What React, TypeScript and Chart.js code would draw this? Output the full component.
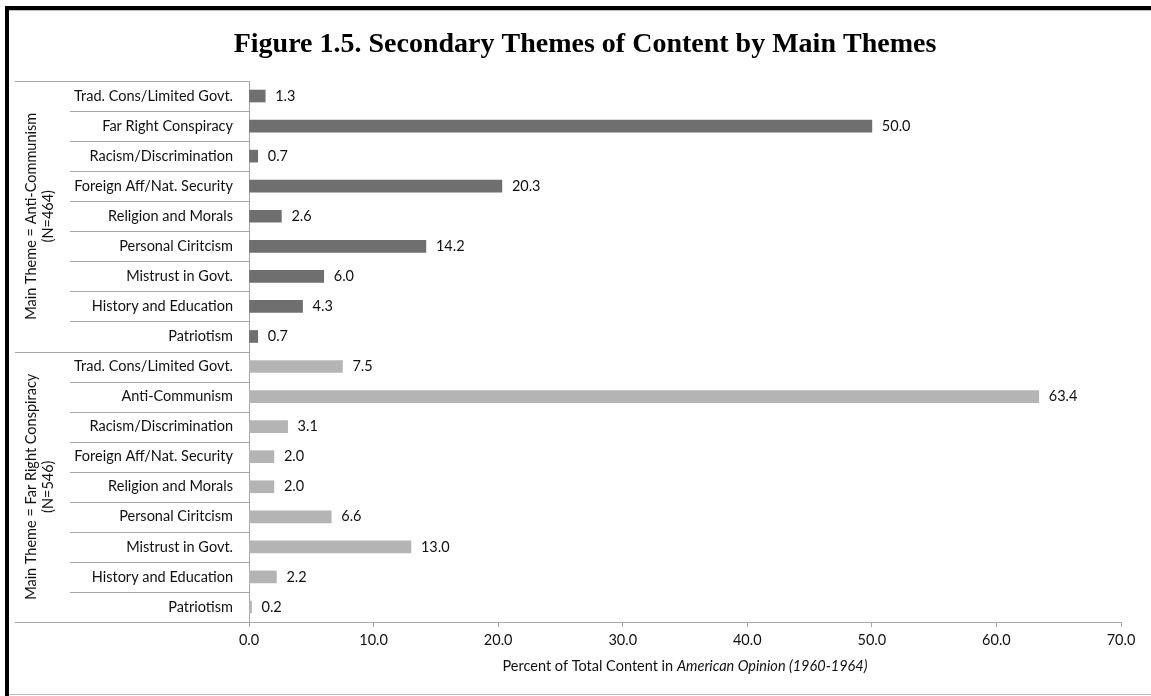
import React, { useEffect, useRef } from "react";
import { Chart, registerables } from "chart.js";

Chart.register(...registerables);

const TITLE = "Figure 1.5. Secondary Themes of Content by Main Themes";

const groupALabels = [
  "Trad. Cons/Limited Govt.",
  "Far Right Conspiracy",
  "Racism/Discrimination",
  "Foreign Aff/Nat. Security",
  "Religion and Morals",
  "Personal Ciritcism",
  "Mistrust in Govt.",
  "History and Education",
  "Patriotism",
];
const groupAValues = [1.3, 50.0, 0.7, 20.3, 2.6, 14.2, 6.0, 4.3, 0.7];

const groupBLabels = [
  "Trad. Cons/Limited Govt.",
  "Anti-Communism",
  "Racism/Discrimination",
  "Foreign Aff/Nat. Security",
  "Religion and Morals",
  "Personal Ciritcism",
  "Mistrust in Govt.",
  "History and Education",
  "Patriotism",
];
const groupBValues = [7.5, 63.4, 3.1, 2.0, 2.0, 6.6, 13.0, 2.2, 0.2];

const groupNames = [
  ["Main Theme = Anti-Communism", "(N=464)"],
  ["Main Theme = Far Right Conspiracy", "(N=546)"],
];

const xTicks = [0, 10, 20, 30, 40, 50, 60, 70];
const xTitlePlain = "Percent of Total Content in ";
const xTitleItalic = "American Opinion (1960-1964)";

const FONT = "Lato, 'Open Sans', sans-serif";
const FS = 14.5;
const TEXT = "#111";
const DARK = "#6f6f6f";
const LIGHT = "#b4b4b4";
const LINE = "#a6a6a6";

export default function App() {
  const ref = useRef<HTMLCanvasElement | null>(null);

  useEffect(() => {
    document.body.style.margin = "0";
    const canvas = ref.current!;
    const labels = [...groupALabels, ...groupBLabels];
    const values = [...groupAValues, ...groupBValues];
    const colors = [
      ...groupAValues.map(() => DARK),
      ...groupBValues.map(() => LIGHT),
    ];

    const decor = {
      id: "decor",
      beforeDraw(chart: any) {
        const ctx = chart.ctx;
        ctx.save();
        ctx.fillStyle = "#ffffff";
        ctx.fillRect(0, 0, chart.width, chart.height);
        ctx.restore();
      },
      afterDraw(chart: any) {
        const ctx = chart.ctx;
        const ca = chart.chartArea;
        const y = chart.scales.y;
        ctx.save();
        // frame
        ctx.fillStyle = "#000";
        ctx.fillRect(5, 6, chart.width, 4);
        ctx.fillRect(5, 6, 4, chart.height);
        ctx.fillStyle = "#bdbdbd";
        ctx.fillRect(9, 10, chart.width, 1);
        ctx.fillRect(9, chart.height - 2, chart.width, 1);

        // title
        ctx.fillStyle = "#000";
        ctx.font = "bold 28px 'Liberation Serif', 'Times New Roman', serif";
        ctx.textAlign = "center";
        ctx.textBaseline = "middle";
        ctx.fillText(TITLE, 585, 45);

        // left grid lines
        ctx.strokeStyle = LINE;
        ctx.lineWidth = 1;
        const n = labels.length;
        const half = groupALabels.length;
        for (let i = 0; i <= n; i++) {
          let py;
          if (i === 0) py = ca.top;
          else if (i === n) py = ca.bottom;
          else py = (y.getPixelForTick(i - 1) + y.getPixelForTick(i)) / 2;
          const startX = i === 0 || i === n || i === half ? 15 : 70;
          const endX = i === n ? ca.right : ca.left;
          ctx.beginPath();
          ctx.moveTo(startX, Math.round(py) + 0.5);
          ctx.lineTo(endX, Math.round(py) + 0.5);
          ctx.stroke();
        }

        // group labels
        ctx.fillStyle = TEXT;
        ctx.font = `${FS}px ${FONT}`;
        const mid = (y.getPixelForTick(half - 1) + y.getPixelForTick(half)) / 2;
        const groups = [
          [ca.top, mid],
          [mid, ca.bottom],
        ];
        groups.forEach((g, gi) => {
          const cy = (g[0] + g[1]) / 2;
          ctx.save();
          ctx.translate(40, cy);
          ctx.rotate(-Math.PI / 2);
          ctx.textAlign = "center";
          ctx.textBaseline = "middle";
          ctx.fillText(groupNames[gi][0], 0, -9);
          ctx.fillText(groupNames[gi][1], 0, 8);
          ctx.restore();
        });

        // value labels
        ctx.font = `${FS}px ${FONT}`;
        ctx.textAlign = "left";
        ctx.textBaseline = "middle";
        ctx.fillStyle = TEXT;
        const meta = chart.getDatasetMeta(0);
        meta.data.forEach((bar: any, i: number) => {
          ctx.fillText(values[i].toFixed(1), bar.x + 10, bar.y);
        });

        // x title
        ctx.font = `${FS}px ${FONT}`;
        const w1 = ctx.measureText(xTitlePlain).width;
        ctx.font = `italic ${FS}px ${FONT}`;
        const w2 = ctx.measureText(xTitleItalic).width;
        const cx = (ca.left + ca.right) / 2;
        const sx = cx - (w1 + w2) / 2;
        const ty = 666;
        ctx.font = `${FS}px ${FONT}`;
        ctx.fillText(xTitlePlain, sx, ty);
        ctx.font = `italic ${FS}px ${FONT}`;
        ctx.fillText(xTitleItalic, sx + w1, ty);
        ctx.restore();
      },
    };

    const chart = new Chart(canvas, {
      type: "bar",
      data: {
        labels,
        datasets: [
          {
            data: values,
            backgroundColor: colors,
            barThickness: 12,
            borderWidth: 0,
          },
        ],
      },
      options: {
        indexAxis: "y",
        responsive: false,
        animation: false,
        layout: { padding: { top: 81, right: 30, left: 0, bottom: 0 } },
        plugins: {
          legend: { display: false },
          tooltip: { enabled: false },
          title: { display: false },
        },
        scales: {
          x: {
            min: 0,
            max: 70,
            afterBuildTicks: (scale: any) => {
              scale.ticks = xTicks.map((v) => ({ value: v }));
            },
            afterFit: (scale: any) => {
              scale.height = 696 - 622;
            },
            grid: {
              drawOnChartArea: false,
              drawTicks: true,
              tickLength: 5,
              color: LINE,
            },
            border: { color: LINE },
            ticks: {
              padding: 5,
              color: TEXT,
              font: { family: FONT, size: FS },
              callback: (v: any) => Number(v).toFixed(1),
            },
          },
          y: {
            afterFit: (scale: any) => {
              scale.width = 249;
            },
            grid: { display: false, drawTicks: false },
            border: { color: LINE },
            ticks: {
              padding: 16,
              color: TEXT,
              autoSkip: false,
              font: { family: FONT, size: FS },
            },
          },
        },
      },
      plugins: [decor],
    });
    return () => chart.destroy();
  }, []);

  return (
    <div style={{ width: 1151, height: 696, position: "relative" }}>
      <canvas ref={ref} width={1151} height={696} style={{ display: "block" }} />
    </div>
  );
}
